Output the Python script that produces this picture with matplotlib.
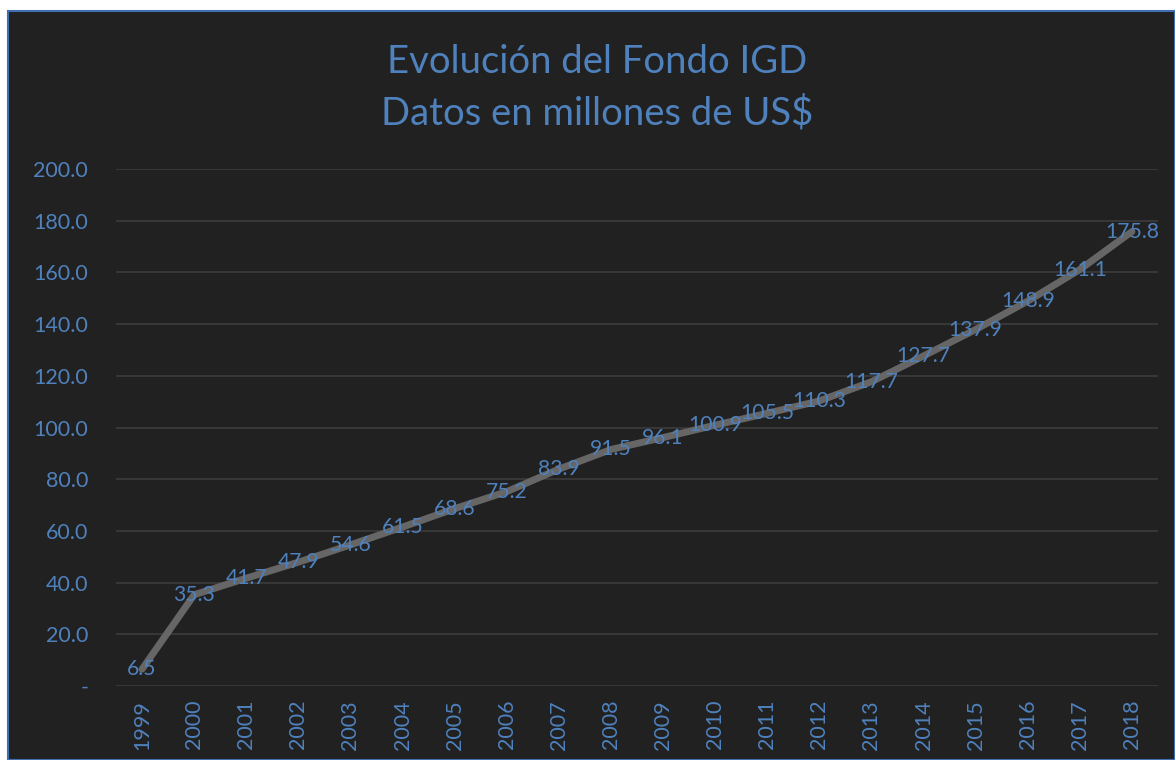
import matplotlib.pyplot as plt
from matplotlib.patches import Rectangle

# data
years = ['1999', '2000', '2001', '2002', '2003', '2004', '2005', '2006', '2007', '2008',
         '2009', '2010', '2011', '2012', '2013', '2014', '2015', '2016', '2017', '2018']
fondo = [6.5, 35.3, 41.7, 47.9, 54.6, 61.5, 68.6, 75.2, 83.9, 91.5,
         96.1, 100.9, 105.5, 110.3, 117.7, 127.7, 137.9, 148.9, 161.1, 175.8]
yticks = [0, 20, 40, 60, 80, 100, 120, 140, 160, 180, 200]

bg = '#212121'
blue = '#4f81bd'
plt.rcParams['font.family'] = ['Lato', 'DejaVu Sans']

fig = plt.figure(figsize=(11.75, 7.6), dpi=100)
fig.patch.set_facecolor('white')
# dark chart area with thin blue edge
fig.patches.append(Rectangle((8 / 1175, 0), 1 - 8 / 1175, 1 - 11 / 760,
                             transform=fig.transFigure, facecolor=bg,
                             edgecolor='#3f6fb0', linewidth=1.5, zorder=-5))

ax = fig.add_axes([116 / 1175, 74 / 760, 1042 / 1175, 517 / 760])
ax.set_facecolor(bg)

x = list(range(len(years)))
ax.plot(x, fondo, color='#666666', linewidth=5, solid_capstyle='round', zorder=2)
for xi, v in zip(x, fondo):
    ax.text(xi, v, '%.1f' % v, color=blue, fontsize=15.2, ha='center', va='center', zorder=3)

ax.set_xlim(-0.5, len(years) - 0.5)
ax.set_ylim(0, 200)
ax.set_yticks(yticks)
ax.set_yticklabels(['-'] + ['%.1f' % t for t in yticks[1:]])
ax.set_xticks(x)
ax.set_xticklabels(years, rotation=90)
ax.tick_params(axis='both', length=0, colors=blue, labelsize=15.5)
ax.tick_params(axis='y', pad=20)
ax.tick_params(axis='x', pad=10)
ax.grid(axis='y', color='#3c3c3c', linewidth=1.2)
ax.set_axisbelow(True)
for s in ax.spines.values():
    s.set_visible(False)

fig.text(597 / 1175, 1 - 62 / 760, 'Evolución del Fondo IGD', color=blue, fontsize=27.5,
         ha='center', va='center')
fig.text(597 / 1175, 1 - 113 / 760, 'Datos en millones de US$', color=blue, fontsize=27.5,
         ha='center', va='center')

fig.savefig('out.png', dpi=100, facecolor=fig.get_facecolor())
